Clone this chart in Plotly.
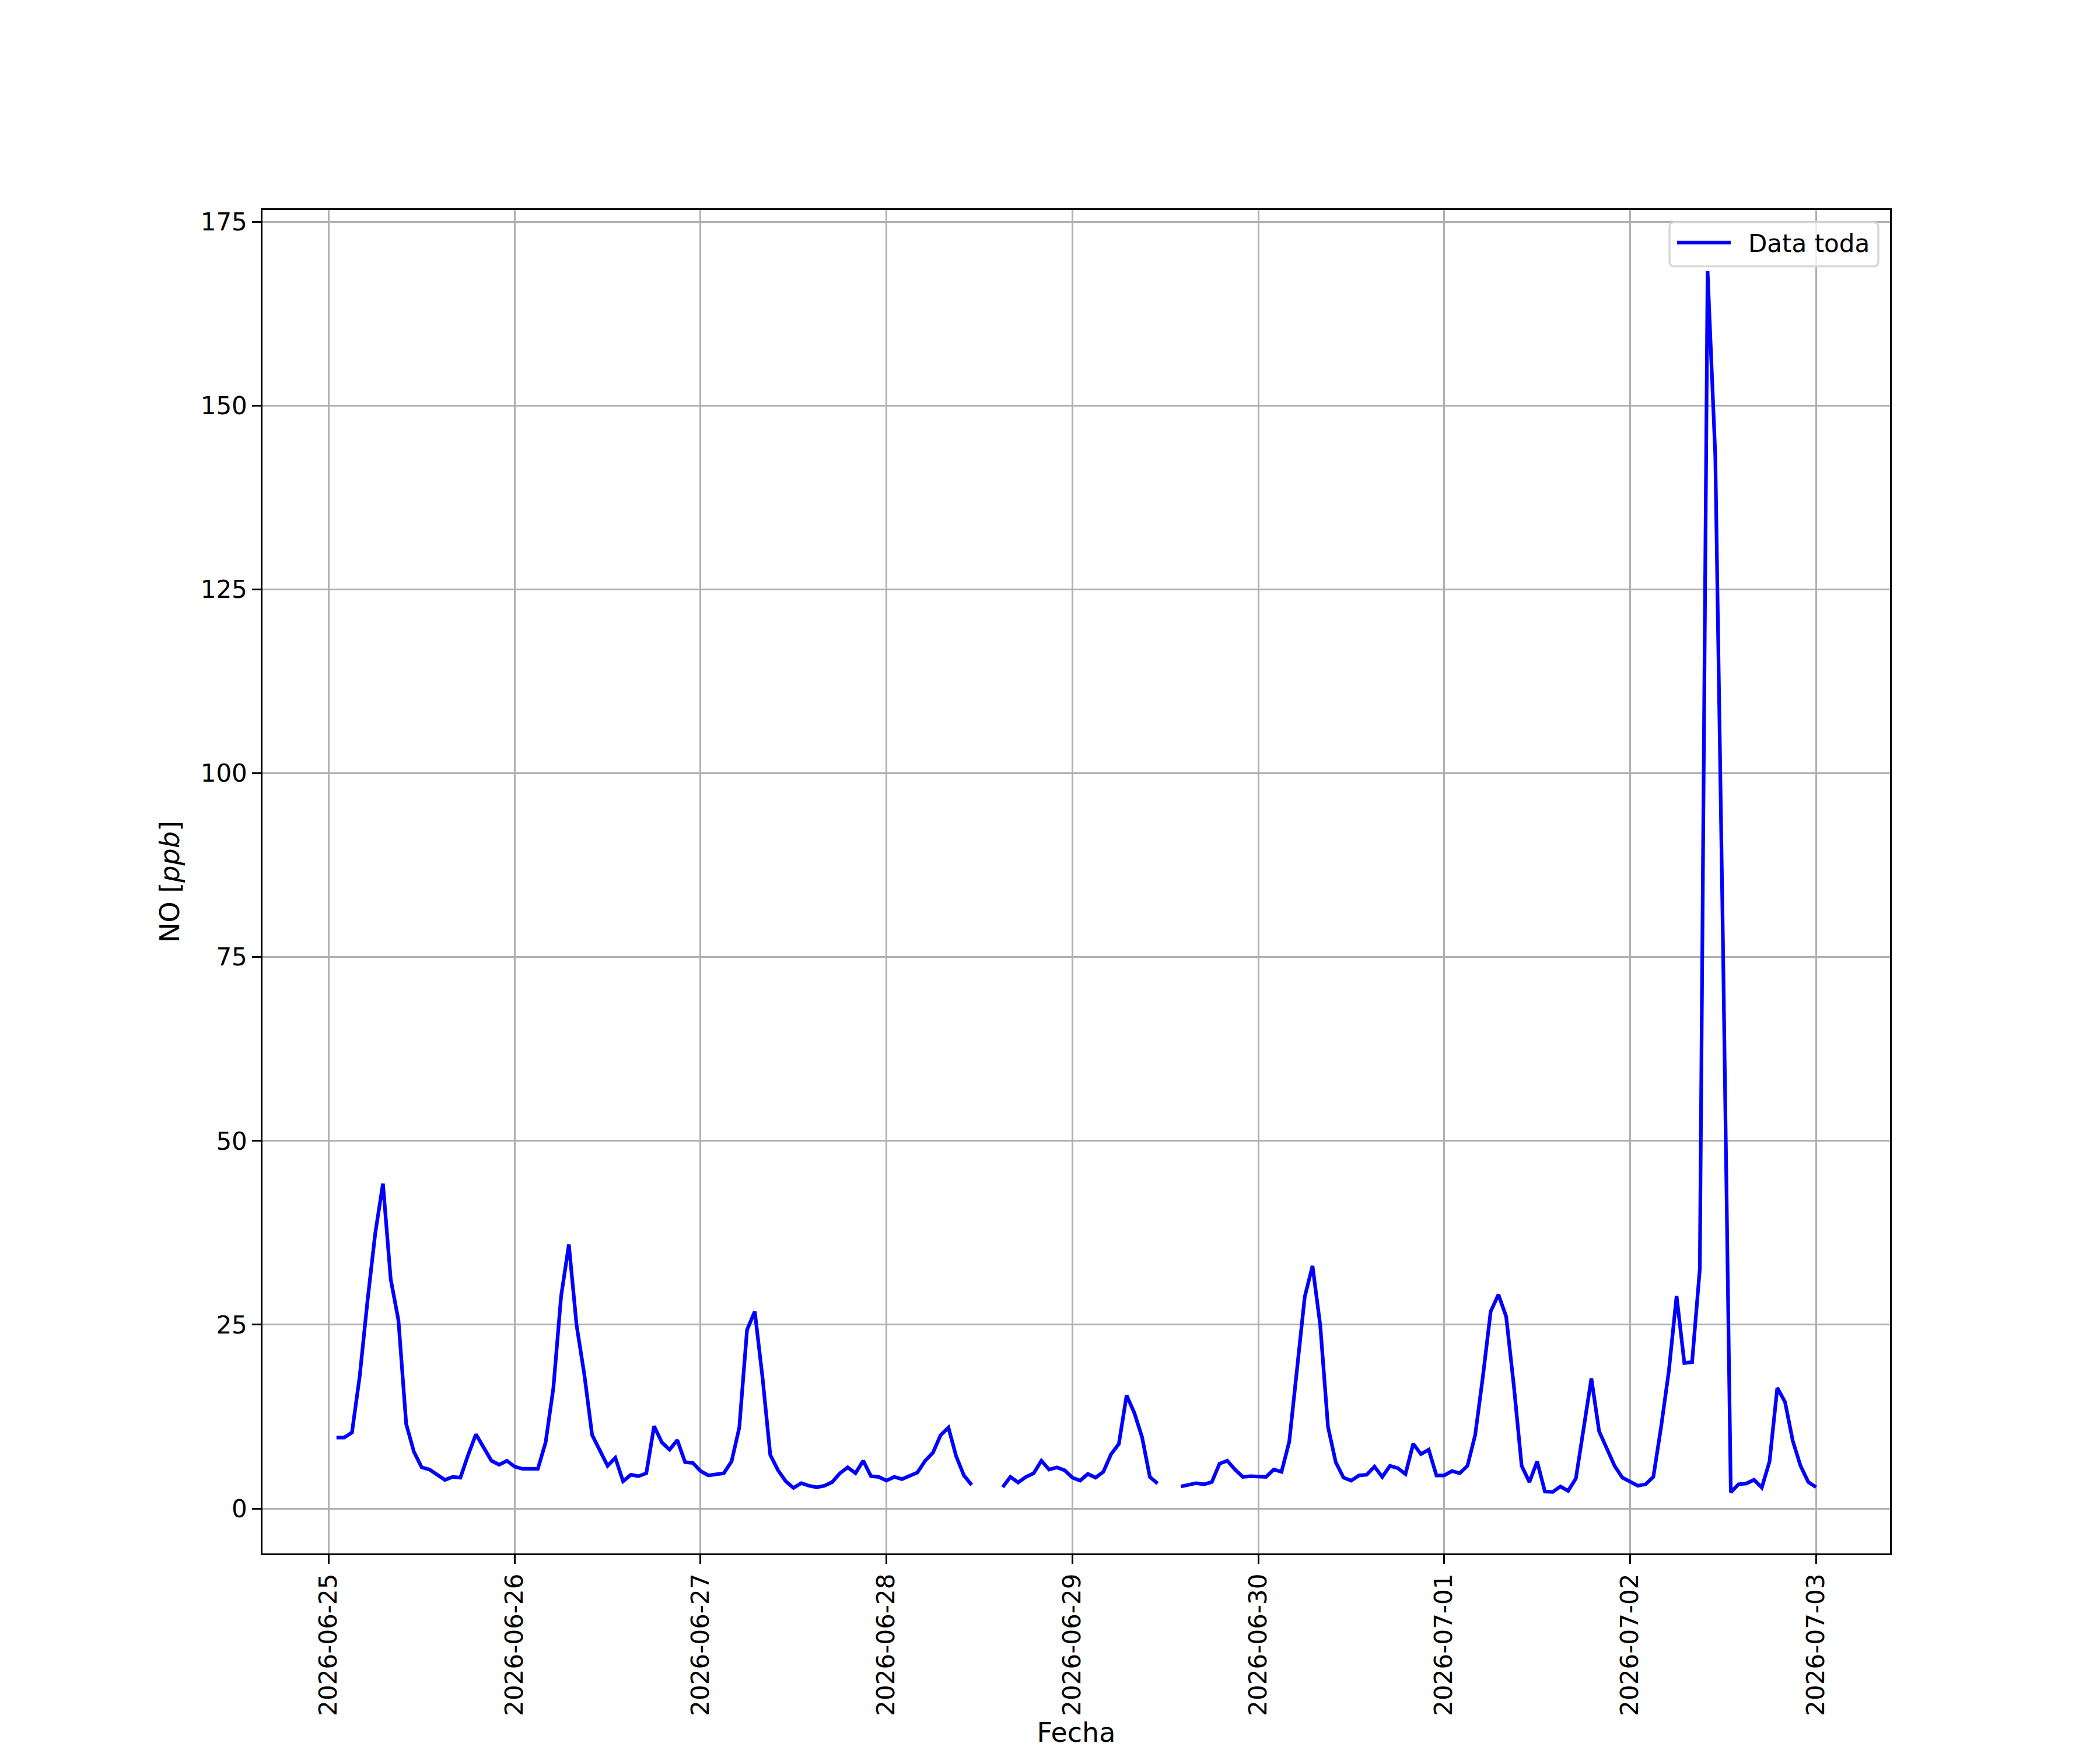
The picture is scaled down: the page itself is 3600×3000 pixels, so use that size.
import numpy as np
import pandas as pd
import plotly.graph_objects as go

# Hourly NO values [ppb], hours 01:00 .. 24:00 of each day (None = missing)
d0625 = [9.65, 9.65, 10.35, 18.0, 28.2, 37.4, 44.2, 31.2, 25.6, 11.5, 7.7, 5.6,
         5.3, 4.6, 3.9, 4.3, 4.2, 7.3, 10.1, 8.3, 6.5, 5.95, 6.5, 5.7]
d0626 = [5.4, 5.4, 5.4, 9.0, 16.4, 28.9, 35.9, 24.9, 18.2, 10.0, 7.9, 5.8,
         6.9, 3.7, 4.6, 4.4, 4.8, 11.2, 9.0, 8.0, 9.3, 6.3, 6.2, 5.1]
d0627 = [4.5, 4.7, 4.8, 6.4, 11.0, 24.3, 26.8, 17.8, 7.3, 5.2, 3.7, 2.8,
         3.45, 3.1, 2.9, 3.1, 3.6, 4.8, 5.6, 4.8, 6.5, 4.4, 4.3, 3.8]
d0628 = [4.3, 4.0, 4.4, 4.9, 6.5, 7.6, 10.0, 11.0, 7.1, 4.5, 3.2, None,
         None, None, 2.9, 4.3, 3.55, 4.3, 4.8, 6.5, 5.3, 5.6, 5.2, 4.2]
d0629 = [3.8, 4.7, 4.2, 5.0, 7.4, 8.8, 15.4, 13.0, 9.7, 4.3, 3.4, None,
         None, 3.0, 3.2, 3.45, 3.3, 3.6, 6.1, 6.5, 5.3, 4.3, 4.4, 4.4]
d0630 = [4.3, 5.3, 5.0, 9.1, 18.5, 28.8, 33.0, 24.9, 11.1, 6.3, 4.2, 3.8,
         4.5, 4.6, 5.7, 4.3, 5.8, 5.5, 4.7, 8.8, 7.4, 8.0, 4.5, 4.5]
d0701 = [5.1, 4.8, 5.8, 10.0, 18.0, 26.8, 29.1, 26.1, 16.6, 5.8, 3.6, 6.4,
         2.3, 2.25, 3.0, 2.4, 4.1, 11.0, 17.7, 10.5, 8.1, 5.8, 4.2, 3.7]
d0702 = [3.1, 3.3, 4.3, 11.1, 18.7, 28.9, 19.8, 19.9, 32.6, 168.3, 143.1, 76.0,
         2.2, 3.3, 3.4, 3.9, 2.85, 6.4, 16.4, 14.5, 9.2, 5.8, 3.6, 2.9]

start_time = "2026-06-25 01:00"
tick_labels = ["2026-06-25", "2026-06-26", "2026-06-27", "2026-06-28", "2026-06-29",
               "2026-06-30", "2026-07-01", "2026-07-02", "2026-07-03"]
y_ticks = [0, 25, 50, 75, 100, 125, 150, 175]
series_name = "Data toda"

values = []
for day in [d0625, d0626, d0627, d0628, d0629, d0630, d0701, d0702]:
    values.extend([np.nan if v is None else v for v in day])
values = np.array(values, dtype=float)
times = pd.date_range(start_time, periods=len(values), freq="h")

# matplotlib-like 5% autoscale margins
t0, t1 = times[0], times[-1]
dt = t1 - t0
x_range = [t0 - 0.05 * dt, t1 + 0.05 * dt]
vmin, vmax = np.nanmin(values), np.nanmax(values)
vr = vmax - vmin
y_range = [vmin - 0.05 * vr, vmax + 0.05 * vr]

W, H = 3600, 3000
ML, MR, MT, MB = 450, 360, 360, 330
PW, PH = W - ML - MR, H - MT - MB

def px_x(p):
    return (p - ML) / PW

def px_y(p):
    return (H - MB - p) / PH

FONT = "DejaVu Sans"
LW = 3.3

fig = go.Figure()
fig.add_trace(go.Scatter(
    x=times, y=values, mode="lines", name=series_name,
    line=dict(color="#0000ff", width=6.25),
    connectgaps=False, showlegend=False,
))

axis_common = dict(
    showline=True, linecolor="black", linewidth=LW, mirror=True,
    ticks="outside", ticklen=14.6, tickwidth=LW, tickcolor="black",
    showgrid=True, gridcolor="#b0b0b0", gridwidth=LW,
    zeroline=False,
    tickfont=dict(family=FONT, size=42, color="black"),
)

fig.update_layout(
    width=W, height=H,
    margin=dict(l=ML, r=MR, t=MT, b=MB, pad=0),
    paper_bgcolor="white", plot_bgcolor="white",
    font=dict(family=FONT, color="black"),
    xaxis=dict(
        **axis_common,
        range=x_range,
        tickmode="array",
        tickvals=pd.to_datetime(tick_labels),
        ticktext=tick_labels,
        tickangle=-90,
        title=dict(text="Fecha", font=dict(family=FONT, size=46, color="black"), standoff=14),
    ),
    yaxis=dict(
        **axis_common,
        range=y_range,
        tickmode="array",
        tickvals=y_ticks,
        ticktext=[str(v) for v in y_ticks],
        title=dict(text="NO [<i>ppb</i>]", font=dict(family=FONT, size=46, color="black"), standoff=22),
    ),
)

# Legend box drawn in matplotlib style (rounded frame, line sample, label)
bx0, bx1 = px_x(2862), px_x(3220)
by0, by1 = px_y(457), px_y(381)
rx, ry = 9 / PW, 9 / PH
path = (f"M {bx0+rx},{by0} L {bx1-rx},{by0} Q {bx1},{by0} {bx1},{by0+ry} "
        f"L {bx1},{by1-ry} Q {bx1},{by1} {bx1-rx},{by1} "
        f"L {bx0+rx},{by1} Q {bx0},{by1} {bx0},{by1-ry} "
        f"L {bx0},{by0+ry} Q {bx0},{by0} {bx0+rx},{by0} Z")
fig.add_shape(type="path", path=path, xref="paper", yref="paper",
              fillcolor="rgba(255,255,255,0.8)", line=dict(color="#d6d6d6", width=LW),
              layer="above")
fig.add_shape(type="line", xref="paper", yref="paper",
              x0=px_x(2875), x1=px_x(2967), y0=px_y(416), y1=px_y(416),
              line=dict(color="#0000ff", width=6.25), layer="above")
fig.add_annotation(text=series_name, xref="paper", yref="paper",
                   x=px_x(2995), y=px_y(418), xanchor="left", yanchor="middle",
                   showarrow=False, font=dict(family=FONT, size=42, color="black"))

fig.write_html("out.html", config={"displayModeBar": False},
               post_script="document.body.style.margin='0px';")
